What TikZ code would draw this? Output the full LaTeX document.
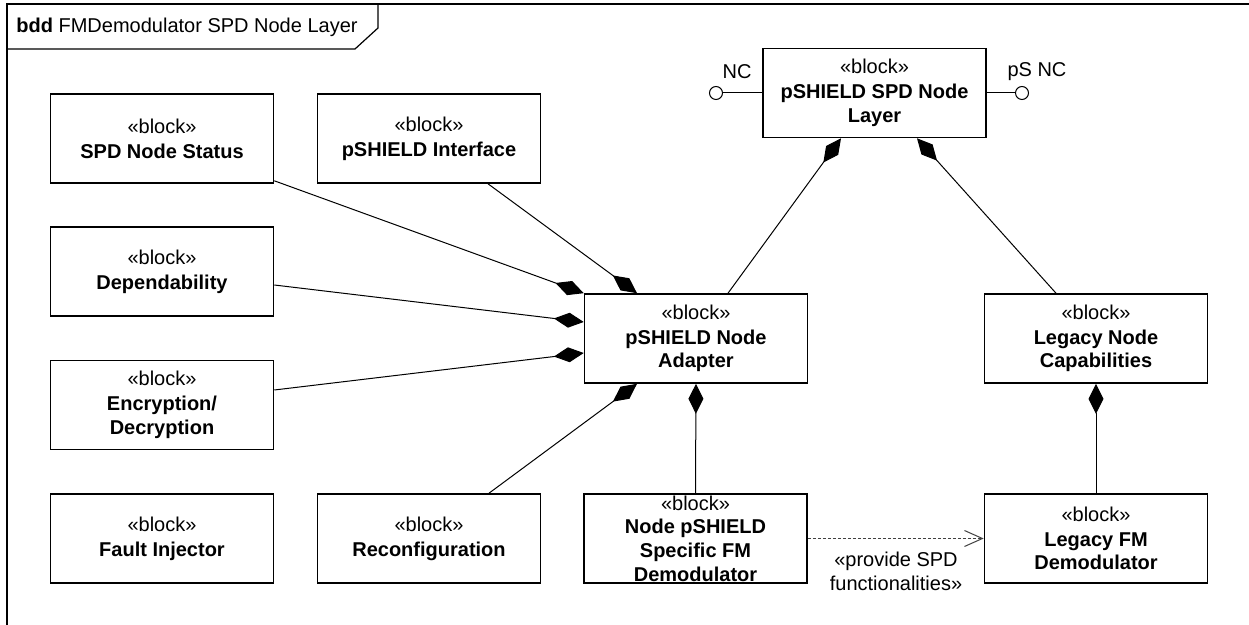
\documentclass[tikz,border=0pt]{standalone}
\usepackage{fontspec}
\setmainfont{Liberation Sans}
\usetikzlibrary{arrows.meta}

\begin{document}
\begin{tikzpicture}[x=0.5pt,y=-0.5pt,
        block/.style={draw,fill=white,line width=0.8pt,minimum width=111.5pt,minimum height=44.5pt,inner sep=0pt,align=center,font=\fontsize{10}{11.8}\selectfont},
        comp/.style={line width=0.5pt,-{Diamond[length=15pt,width=7.5pt]}},
        dep/.style={line width=0.5pt,draw=black!75,dash pattern=on 1.5pt off 1pt,-{Straight Barb[length=9pt,width=8pt]}},
        port/.style={circle,draw,fill=white,line width=0.5pt,minimum size=6.5pt,inner sep=0pt},
        txt/.style={inner sep=0pt,align=center,font=\fontsize{10}{11.8}\selectfont}]
        \useasboundingbox (0,0) rectangle (1249,625);
        \draw[line width=1pt] (7,4) rectangle (1280,650);
        \draw[line width=0.6pt] (7,49) -- (355,49) -- (378,28) -- (378,4);
        \node[txt,anchor=west] (title) at (16,27) {\textbf{bdd} FMDemodulator SPD Node Layer};
        \node[block] (status) at (162,138.5) {«block»\\[0.7pt]\textbf{SPD Node Status}};
        \node[block] (iface) at (429,138.5) {«block»\\[0.7pt]\textbf{pSHIELD Interface}};
        \node[block] (depend) at (162,271.5) {«block»\\[0.7pt]\textbf{Dependability}};
        \node[block] (crypt) at (162,405) {«block»\\[0.7pt]\textbf{Encryption/}\\\textbf{Decryption}};
        \node[block] (fault) at (162,538.5) {«block»\\[0.7pt]\textbf{Fault Injector}};
        \node[block] (reconf) at (429,538.5) {«block»\\[0.7pt]\textbf{Reconfiguration}};
        \node[block] (specific) at (695.5,538.5) {«block»\\\textbf{Node pSHIELD}\\\textbf{Specific FM}\\\textbf{Demodulator}};
        \node[block] (adapter) at (696,338.5) {«block»\\[0.7pt]\textbf{pSHIELD Node}\\\textbf{Adapter}};
        \node[block] (layer) at (874.5,93) {«block»\\[0.7pt]\textbf{pSHIELD SPD Node}\\\textbf{Layer}};
        \node[block] (capab) at (1096,338.5) {«block»\\[0.7pt]\textbf{Legacy Node}\\\textbf{Capabilities}};
        \node[block] (legacy) at (1096,538.5) {«block»\\[0.7pt]\textbf{Legacy FM}\\\textbf{Demodulator}};
        \node[port] (nc) at (716,93) {};
        \node[port] (psnc) at (1022,93) {};
        \node[txt] (nclabel) at (737,72) {NC};
        \node[txt] (psnclabel) at (1037,72) {pS NC};
        \node[txt] (provide) at (896,571.5) {«provide SPD\\functionalities»};
        \draw[line width=0.5pt] (nc) -- (layer.west);
        \draw[line width=0.5pt] (psnc) -- (layer.east);
        \draw[comp] ([yshift=1.5pt]status.south east) -- (adapter.north west);
        \draw[comp] ([xshift=29.5pt]iface.south) -- ([xshift=-29.5pt]adapter.north);
        \draw[comp] ([yshift=-6.75pt]depend.east) -- ([yshift=8.25pt]adapter.west);
        \draw[comp] ([yshift=7.5pt]crypt.east) -- ([yshift=-7.25pt]adapter.west);
        \draw[comp] ([xshift=30pt]reconf.north) -- ([xshift=-29.5pt]adapter.south);
        \draw[comp] (specific.north) -- (adapter.south);
        \draw[comp] ([xshift=16pt]adapter.north) -- ([xshift=-16.75pt]layer.south);
        \draw[comp] ([xshift=-20pt]capab.north) -- ([xshift=21.25pt]layer.south);
        \draw[comp] (legacy.north) -- (capab.south);
        \draw[dep] (specific.east) -- (legacy.west);
    \end{tikzpicture}
\end{document}
